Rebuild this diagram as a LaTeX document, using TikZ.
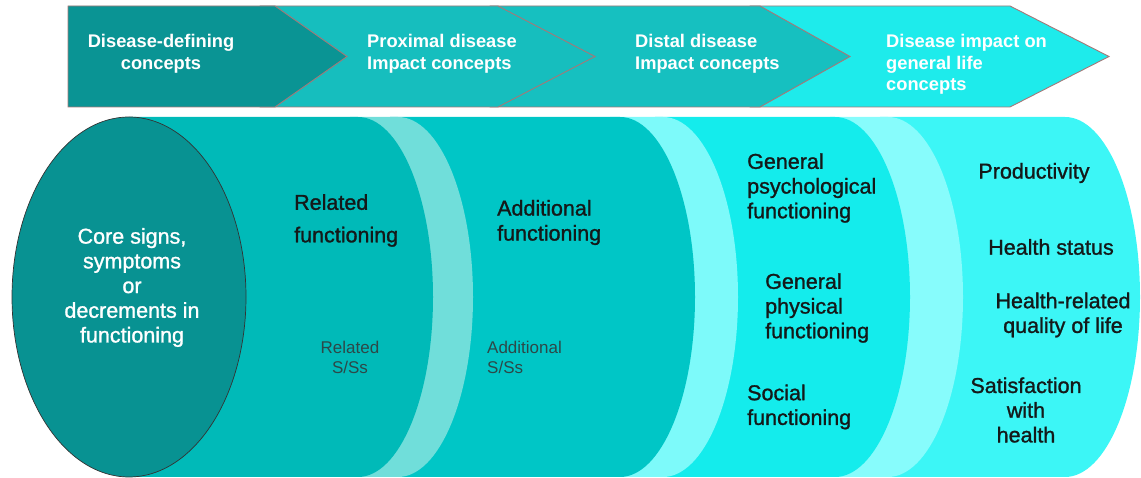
\documentclass[tikz,border=0pt]{standalone}
\usepackage{fontspec}
\setmainfont{Liberation Sans}
\newfontfamily\bodyfont[FakeBold=1.2]{Liberation Sans}
\definecolor{chevA}{RGB}{10,148,148}
\definecolor{chevB}{RGB}{22,190,190}
\definecolor{chevC}{RGB}{22,192,192}
\definecolor{chevD}{RGB}{30,235,235}
\definecolor{edgecol}{RGB}{165,120,120}
\definecolor{corecol}{RGB}{8,146,146}
\definecolor{bodyA}{RGB}{0,186,184}
\definecolor{paleA}{RGB}{112,222,218}
\definecolor{bodyB}{RGB}{0,198,198}
\definecolor{paleB}{RGB}{125,250,250}
\definecolor{bodyC}{RGB}{20,236,236}
\definecolor{paleC}{RGB}{135,252,252}
\definecolor{bodyD}{RGB}{60,246,246}
\definecolor{darktxt}{RGB}{20,25,25}
\definecolor{sstxt}{RGB}{45,72,72}
\begin{document}
\begin{tikzpicture}[x=1pt,y=1pt,
  chev/.style={draw=edgecol,line width=0.9pt,line join=miter},
  chevtext/.style={font=\bfseries\fontsize{18.3}{21.5}\selectfont,text=white,inner sep=0pt},
  bodytext/.style={font=\bodyfont\fontsize{21.5}{24.7}\selectfont,text=darktxt,inner sep=0pt},
  sstext/.style={font=\fontsize{17}{20}\selectfont,text=sstxt,inner sep=0pt}]
\useasboundingbox (0,0) rectangle (1141,478);
% ---- chevrons (back to front)
\filldraw[chev,fill=chevD] (750,472)--(1010,472)--(1109,421.5)--(1010,371)--(750,371)--cycle;
\filldraw[chev,fill=chevC] (490,472)--(760,472)--(850,421.5)--(760,371)--(490,371)--cycle;
\filldraw[chev,fill=chevB] (260,472)--(498,472)--(595,421.5)--(498,371)--(260,371)--cycle;
\filldraw[chev,fill=chevA] (68,472)--(275,472)--(347,421.5)--(275,371)--(68,371)--cycle;
\node[chevtext,align=center] (t1) at (161,424) {Disease-defining\\concepts};
\node[chevtext,align=left,anchor=west] (t2) at (367,424) {Proximal disease\\Impact concepts};
\node[chevtext,align=left,anchor=west] (t3) at (635,424) {Distal disease\\Impact concepts};
\node[chevtext,align=left,anchor=west] (t4) at (886,413.5) {Disease impact on\\general life\\concepts};
% ---- cylinders (back to front)
\fill[bodyD] (880,361)--(1065,361) arc[start angle=90,end angle=-90,x radius=75pt,y radius=180pt]--(880,1)--cycle;
\fill[paleC] (830,361)--(888,361) arc[start angle=90,end angle=-90,x radius=75pt,y radius=180pt]--(830,1)--cycle;
\fill[bodyC] (655,361)--(835,361) arc[start angle=90,end angle=-90,x radius=75pt,y radius=180pt]--(655,1)--cycle;
\fill[paleB] (610,361)--(663,361) arc[start angle=90,end angle=-90,x radius=75pt,y radius=180pt]--(610,1)--cycle;
\fill[bodyB] (390,361)--(620,361) arc[start angle=90,end angle=-90,x radius=75pt,y radius=180pt]--(390,1)--cycle;
\fill[paleA] (350,361)--(398,361) arc[start angle=90,end angle=-90,x radius=75pt,y radius=180pt]--(350,1)--cycle;
\fill[bodyA] (129,361)--(358,361) arc[start angle=90,end angle=-90,x radius=75pt,y radius=180pt]--(129,1)--cycle;
\filldraw[fill=corecol,draw=black!80,line width=0.7pt] (129,181) ellipse[x radius=117pt,y radius=180pt];
% ---- texts
\node[bodytext,text=white,align=center] (core) at (132,190.5) {Core signs,\\symptoms\\or\\decrements in\\functioning};
\node[bodytext,align=left,anchor=west,font=\bodyfont\fontsize{21.5}{32.5}\selectfont] (rel) at (294,257.5) {Related\\functioning};
\node[sstext,align=center] (relss) at (350,121) {Related\\S/Ss};
\node[bodytext,align=left,anchor=west,font=\bodyfont\fontsize{21.5}{25}\selectfont] (add) at (497,255.5) {Additional\\functioning};
\node[sstext,align=left,anchor=west] (addss) at (487,121) {Additional\\S/Ss};
\node[bodytext,align=left,anchor=west] (psy) at (747,290) {General\\psychological\\functioning};
\node[bodytext,align=left,anchor=west] (phy) at (765,170) {General\\physical\\functioning};
\node[bodytext,align=left,anchor=west] (soc) at (747,71) {Social\\functioning};
\node[bodytext] (prod) at (1034,305) {Productivity};
\node[bodytext] (hs) at (1051,231) {Health status};
\node[bodytext,align=center] (hrq) at (1063,163) {Health-related\\quality of life};
\node[bodytext,align=center] (sat) at (1026,68) {Satisfaction\\with\\health};
\end{tikzpicture}
\end{document}
